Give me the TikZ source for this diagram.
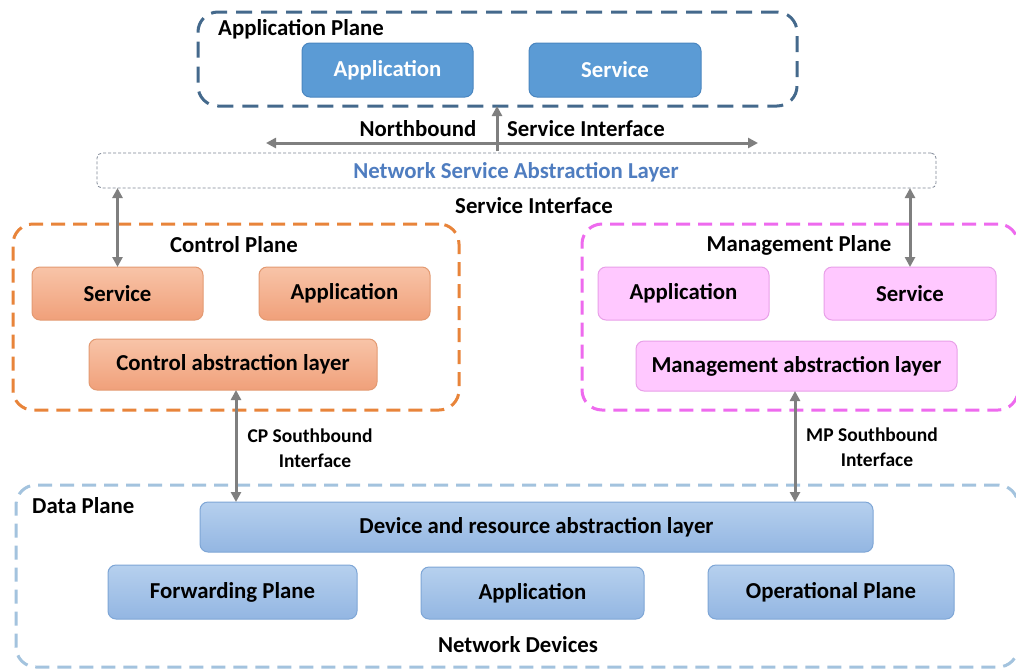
\documentclass[tikz,border=0pt]{standalone}
\usepackage{fontspec}
\setmainfont{Carlito}
\usetikzlibrary{arrows.meta}
\definecolor{apframe}{HTML}{44698C}
\definecolor{apfill}{HTML}{5B9BD5}
\definecolor{apedge}{HTML}{4A86C0}
\definecolor{nsal}{HTML}{4F7DC0}
\definecolor{nsaledge}{HTML}{7E8796}
\definecolor{cpframe}{HTML}{E8843A}
\definecolor{cptop}{HTML}{F8C4A8}
\definecolor{cpbot}{HTML}{F0A07A}
\definecolor{cpedge}{HTML}{E39A72}
\definecolor{mpframe}{HTML}{EE6AEE}
\definecolor{mpfill}{HTML}{FFC8FF}
\definecolor{mpedge}{HTML}{E8A0E8}
\definecolor{dpframe}{HTML}{A3C3DE}
\definecolor{dptop}{HTML}{B6D0EE}
\definecolor{dpbot}{HTML}{93B6E2}
\definecolor{dpedge}{HTML}{7EA6D6}
\definecolor{arrgray}{HTML}{7F7F7F}
\tikzset{
  frame/.style={rectangle, rounded corners=20pt, line width=3pt, dash pattern=on 14pt off 8pt, outer sep=0pt},
  blk/.style={rectangle, rounded corners=8pt, line width=1pt, outer sep=0pt, font=\bfseries\fontsize{22.8}{27}\selectfont},
  apbox/.style={blk, fill=apfill, draw=apedge, text=white},
  cpbox/.style={blk, top color=cptop, bottom color=cpbot, draw=cpedge},
  mpbox/.style={blk, fill=mpfill, draw=mpedge},
  dpbox/.style={blk, top color=dptop, bottom color=dpbot, draw=dpedge},
  lbl/.style={font=\bfseries\fontsize{22.8}{27}\selectfont, inner sep=0pt},
  slbl/.style={font=\bfseries\fontsize{19.5}{25}\selectfont, inner sep=0pt, align=center},
  arr/.style={draw=arrgray, line width=3pt, {Triangle[length=10pt,width=10pt]}-{Triangle[length=10pt,width=10pt]}},
  arrone/.style={draw=arrgray, line width=3pt, -{Triangle[length=10pt,width=10pt]}}
}
\begin{document}
\begin{tikzpicture}[x=1pt,y=-1pt]
\useasboundingbox (0,0) rectangle (1016,670);
\fill[white] (0,0) rectangle (1016,670);
% Application plane
\node[frame, draw=apframe, dash pattern=on 16pt off 9pt, minimum width=599pt, minimum height=94pt] (AP) at (497.5,59) {};
\node[lbl, anchor=west] (APl) at (218,29) {Application Plane};
\node[apbox, minimum width=171pt, minimum height=54pt] (apA) at (387.5,70) {Application};
\node[apbox, minimum width=172pt, minimum height=54pt] (apS) at (615,70) {Service};
% northbound
\coordinate (nbL) at (266,143);
\coordinate (nbR) at (758,143);
\coordinate (nbC) at (497,151);
\draw[arr] (nbL) -- (nbR);
\draw[arrone] (nbC) -- (nbC |- AP.south);
\node[lbl] (nb1) at (418,129) {Northbound};
\node[lbl, anchor=west] (nb2) at (507,129) {Service Interface};
% NSAL
\node[rectangle, draw=nsaledge, line width=0.8pt, dash pattern=on 3pt off 2pt, rounded corners=5pt, minimum width=839pt, minimum height=35pt, outer sep=0pt] (NS) at (516.5,170.5) {};
\node[lbl, text=nsal] (NSt) at (516,172) {Network Service Abstraction Layer};
\node[lbl] (si) at (534,206) {Service Interface};
% Control plane
\node[frame, draw=cpframe, minimum width=446pt, minimum height=186pt] (CP) at (236,317) {};
\node[lbl] (CPl) at (234,245) {Control Plane};
\node[cpbox, minimum width=171pt, minimum height=53pt] (cpS) at (117.5,293.5) {Service};
\node[cpbox, minimum width=171pt, minimum height=53pt] (cpA) at (344.5,293.5) {Application};
\node[cpbox, minimum width=288pt, minimum height=51pt] (cpL) at (233,364.5) {Control abstraction layer};
\draw[arr] (cpS.north |- NS.south) -- (cpS.north);
% Management plane
\node[frame, draw=mpframe, minimum width=436pt, minimum height=186pt] (MP) at (800,317) {};
\node[lbl] (MPl) at (799,245) {Management Plane};
\node[mpbox, minimum width=171pt, minimum height=53pt] (mpA) at (683.5,293.5) {Application};
\node[mpbox, minimum width=172pt, minimum height=53pt] (mpS) at (910,293.5) {Service};
\node[mpbox, minimum width=321pt, minimum height=50pt] (mpL) at (796.5,366) {Management abstraction layer};
\draw[arr] (mpS.north |- NS.south) -- (mpS.north);
% Data plane
\node[frame, draw=dpframe, minimum width=1002pt, minimum height=182pt] (DP) at (517,576) {};
\node[lbl, anchor=west] (DPl) at (32,506) {Data Plane};
\node[dpbox, minimum width=673pt, minimum height=50pt] (dev) at (536.5,527) {Device and resource abstraction layer};
\node[dpbox, minimum width=249pt, minimum height=54pt] (fwd) at (232.5,592) {Forwarding Plane};
\node[dpbox, minimum width=223pt, minimum height=52pt] (dapp) at (532.5,593) {Application};
\node[dpbox, minimum width=246pt, minimum height=54pt] (op) at (831,592) {Operational Plane};
\node[lbl] (nd) at (518,645) {Network Devices};
% southbound
\coordinate (cpx) at (236,0);
\coordinate (mpx) at (795,0);
\draw[arr] (cpx |- cpL.south) -- (cpx |- dev.north);
\draw[arr] (mpx |- mpL.south) -- (mpx |- dev.north);
\node[slbl] (cpsb) at (310,448) {CP Southbound\\\hspace*{10pt}Interface};
\node[slbl] (mpsb) at (872,447) {MP Southbound\\\hspace*{10pt}Interface};
\end{tikzpicture}
\end{document}
